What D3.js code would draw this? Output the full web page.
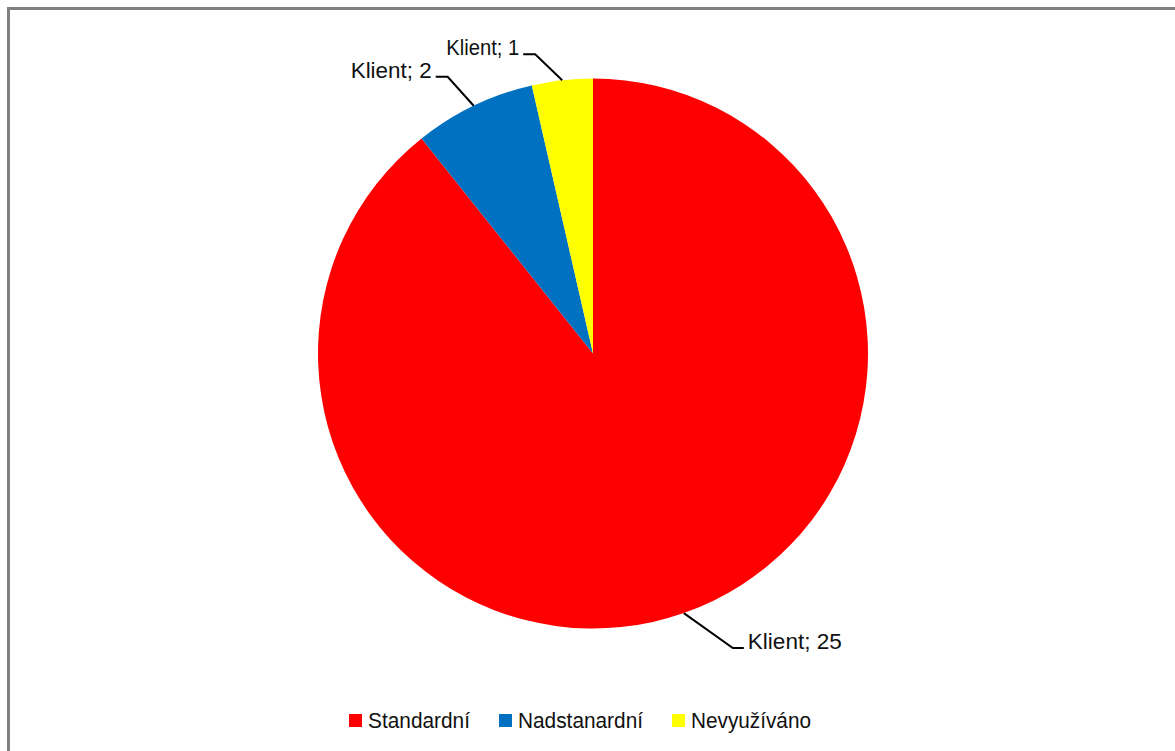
<!DOCTYPE html>
<html><head><meta charset="utf-8">
<script src="https://cdn.jsdelivr.net/npm/d3@7"></script>
<style>body{margin:0;background:#fff}svg{display:block}</style>
</head><body>
<svg id="c" width="1175" height="751"></svg>
<script>
const categories = ["Standardní", "Nadstanardní", "Nevyužíváno"];
const values = [25, 2, 1];
const labels = ["Klient; 25", "Klient; 2", "Klient; 1"];
const colors = ["#FF0000", "#0070C0", "#FFFF00"];

const svg = d3.select("#c");
const W = 1175, H = 751;
const font = "'Liberation Sans', Arial, sans-serif";

// frame (right/bottom extend past view)
svg.append("rect").attr("x", 8.5).attr("y", 8.5).attr("width", W + 20).attr("height", H + 20)
  .attr("fill", "#fff").attr("stroke", "#808080").attr("stroke-width", 3);

const cx = 593, cy = 353.5, r = 275;
const data = categories.map((c, i) => ({cat: c, value: values[i], label: labels[i], color: colors[i]}));
const pie = d3.pie().value(d => d.value).sort(null);
const arcs = pie(data);
const arc = d3.arc().innerRadius(0).outerRadius(r);
const g = svg.append("g").attr("transform", `translate(${cx},${cy})`);
g.selectAll("path").data(arcs).join("path").attr("d", arc).attr("fill", d => d.data.color);

// label layout: offsets for elbow (dx, dy) relative to edge point, horizontal length, text width
const layout = [
  {ex: 49, ey: 35, hx: 11, side: 1, tw: 94},
  {ex: -26, ey: -29, hx: -12, side: -1, tw: 81},
  {ex: -27, ey: -26, hx: -12, side: -1, tw: 73}
];
arcs.forEach((a, i) => {
  const m = (a.startAngle + a.endAngle) / 2;
  const px = r * Math.sin(m), py = -r * Math.cos(m);
  const L = layout[i];
  const ex = px + L.ex, ey = py + L.ey, hx = ex + L.hx;
  g.append("path").attr("d", `M${px},${py}L${ex},${ey}L${hx},${ey}`)
    .attr("fill", "none").attr("stroke", "#000").attr("stroke-width", 2);
  const t = g.append("text").attr("y", ey + 1).attr("font-family", font).attr("font-size", 22)
    .attr("fill", "#111").text(a.data.label)
    .attr("textLength", L.tw).attr("lengthAdjust", "spacingAndGlyphs");
  if (L.side > 0) t.attr("x", hx + 4); else t.attr("x", hx - 4).attr("text-anchor", "end");
});

// legend
const leg = svg.append("g");
const legWidths = [102, 125, 120];
const sq = 13, gapT = 6, gapItem = 29;
const total = d3.sum(legWidths) + categories.length * (sq + gapT) + gapItem * (categories.length - 1);
let x = 580 - total / 2;
const ly = 728;
categories.forEach((c, i) => {
  leg.append("rect").attr("x", x).attr("y", ly - 14).attr("width", sq).attr("height", sq).attr("fill", colors[i]);
  leg.append("text").attr("x", x + sq + gapT).attr("y", ly).attr("font-family", font).attr("font-size", 22)
    .attr("fill", "#111").text(c).attr("textLength", legWidths[i]).attr("lengthAdjust", "spacingAndGlyphs");
  x += sq + gapT + legWidths[i] + gapItem;
});
</script>
</body></html>
